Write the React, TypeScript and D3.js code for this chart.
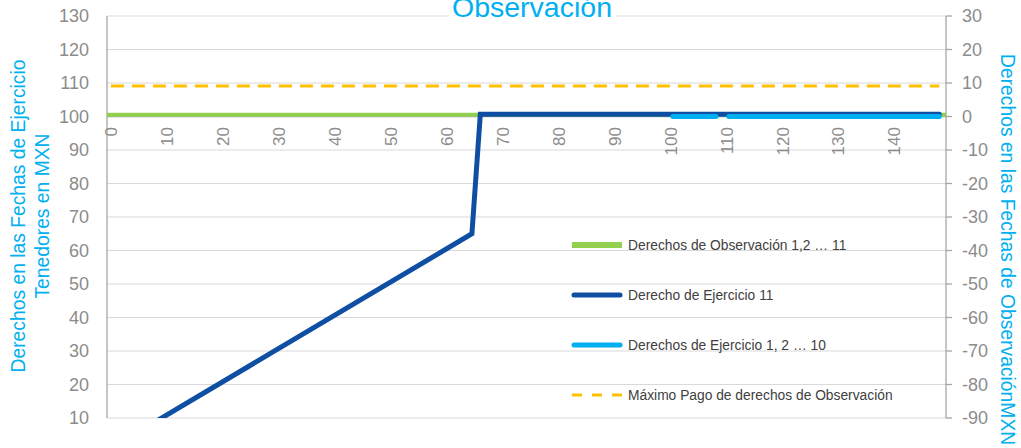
import React from "react";
import * as d3 from "d3";

const W = 1021;
const H = 448;

// Category ticks and axis ticks
const xTicks = [0, 10, 20, 30, 40, 50, 60, 70, 80, 90, 100, 110, 120, 130, 140];
const leftTicks = [10, 20, 30, 40, 50, 60, 70, 80, 90, 100, 110, 120, 130];
const rightTicks = [-90, -80, -70, -60, -50, -40, -30, -20, -10, 0, 10, 20, 30];

// Series (x, value on right axis)
const observacion: [number, number][] = [[-0.7, 0.5], [149.2, 0.5]];
const ejercicio11: [number, number][] = [[0, -99], [64.5, -35], [66, 0.7], [148, 0.7]];
const ejercicio1a10Seg1: [number, number][] = [[100.4, 0], [108.1, 0]];
const ejercicio1a10Seg2: [number, number][] = [[110.4, 0], [148, 0]];
const maximoPago: [number, number][] = [[0, 9.1], [148, 9.1]];

const legendLabels = [
  "Derechos de Observación 1,2 … 11",
  "Derecho de Ejercicio 11",
  "Derechos de Ejercicio 1, 2 … 10",
  "Máximo Pago de derechos de Observación",
];

const COL_GREEN = "#92d050";
const COL_DARK = "#0e4fa3";
const COL_LIGHT = "#00b0f0";
const COL_ORANGE = "#ffc000";
const COL_TEXT = "#00b0f0";
const COL_TICK = "#8c8c8c";
const COL_GRID = "#d9d9d9";
const COL_AXIS = "#a6a6a6";
const FONT = "'Liberation Sans', Arial, sans-serif";

export default function App() {
  const plotL = 107, plotR = 946, plotT = 16, plotB = 418;
  const x = d3.scaleLinear().domain([-0.7, 149.2]).range([plotL, plotR]);
  const yL = d3.scaleLinear().domain([10, 130]).range([plotB, plotT]);
  const yR = d3.scaleLinear().domain([-90, 30]).range([plotB, plotT]);

  const line = d3
    .line<[number, number]>()
    .x((d) => x(d[0]))
    .y((d) => yR(d[1]));

  const legendX = 572;
  const legendY0 = 245;
  const legendStep = 50;

  return (
    <svg
      width={W}
      height={H}
      style={{ position: "absolute", left: 0, top: 0, background: "#fff" }}
      fontFamily={FONT}
    >
      <defs>
        <clipPath id="plotClip">
          <rect x={plotL} y={plotT - 5} width={plotR - plotL} height={plotB - plotT + 5} />
        </clipPath>
      </defs>

      {/* gridlines */}
      {leftTicks.map((t) => (
        <line key={"g" + t} x1={plotL} x2={plotR} y1={yL(t)} y2={yL(t)} stroke={COL_GRID} strokeWidth={1} />
      ))}

      {/* axes lines */}
      <line x1={plotL} x2={plotL} y1={plotT} y2={plotB} stroke={COL_AXIS} strokeWidth={1.3} />
      <line x1={plotR} x2={plotR} y1={plotT} y2={plotB} stroke={COL_AXIS} strokeWidth={1.3} />
      {rightTicks.map((t) => (
        <line key={"rt" + t} x1={plotR} x2={plotR + 6} y1={yR(t)} y2={yR(t)} stroke={COL_AXIS} strokeWidth={1.3} />
      ))}
      <line x1={plotL} x2={plotR} y1={yR(0)} y2={yR(0)} stroke={COL_AXIS} strokeWidth={1.3} />

      {/* left tick labels */}
      {leftTicks.map((t) => (
        <text key={"lt" + t} x={89} y={yL(t)} dy="0.35em" textAnchor="end" fontSize={18} fill={COL_TICK}>
          {t}
        </text>
      ))}
      {/* right tick labels */}
      {rightTicks.map((t) => (
        <text key={"rl" + t} x={962} y={yR(t)} dy="0.35em" textAnchor="start" fontSize={18} fill={COL_TICK}>
          {t}
        </text>
      ))}
      {/* x tick labels */}
      {xTicks.map((t) => (
        <text
          key={"xt" + t}
          transform={`translate(${x(t)},127) rotate(-90)`}
          dy="0.35em"
          textAnchor="end"
          fontSize={17}
          fill={COL_TICK}
        >
          {t}
        </text>
      ))}

      {/* series */}
      <g clipPath="url(#plotClip)">
        <path d={line(maximoPago) || ""} fill="none" stroke={COL_ORANGE} strokeWidth={3} strokeDasharray="13,8" />
        <path d={line(observacion) || ""} fill="none" stroke={COL_GREEN} strokeWidth={4} />
        <path
          d={line(ejercicio11) || ""}
          fill="none"
          stroke={COL_DARK}
          strokeWidth={5}
          strokeLinecap="round"
          strokeLinejoin="miter"
        />
        <path d={line(ejercicio1a10Seg1) || ""} fill="none" stroke={COL_LIGHT} strokeWidth={5} strokeLinecap="round" />
        <path d={line(ejercicio1a10Seg2) || ""} fill="none" stroke={COL_LIGHT} strokeWidth={5} strokeLinecap="round" />
      </g>

      {/* legend */}
      <g>
        <rect x={legendX} y={legendY0 - 3} width={50} height={6} fill={COL_GREEN} />
        <line x1={legendX + 2} x2={legendX + 48} y1={legendY0 + legendStep} y2={legendY0 + legendStep} stroke={COL_DARK} strokeWidth={5} strokeLinecap="round" />
        <line x1={legendX + 2} x2={legendX + 48} y1={legendY0 + 2 * legendStep} y2={legendY0 + 2 * legendStep} stroke={COL_LIGHT} strokeWidth={5} strokeLinecap="round" />
        <line x1={legendX} x2={legendX + 50} y1={legendY0 + 3 * legendStep} y2={legendY0 + 3 * legendStep} stroke={COL_ORANGE} strokeWidth={3} strokeDasharray="10,10" />
        {legendLabels.map((l, i) => (
          <text key={l} x={628} y={legendY0 + i * legendStep} dy="0.35em" fontSize={13.8} fill="#404040">
            {l}
          </text>
        ))}
      </g>

      {/* title */}
      <rect x={449} y={0} width={167} height={21} fill="#fff" />
      <text x={532} y={17} textAnchor="middle" fontSize={28.5} fill={COL_TEXT}>
        Observación
      </text>

      {/* left axis title */}
      <g transform="translate(30,216) rotate(-90)">
        <text x={0} y={-12} dy="0.35em" textAnchor="middle" fontSize={19.3} fill={COL_TEXT}>
          Derechos en las Fechas de Ejercicio
        </text>
        <text x={0} y={12} dy="0.35em" textAnchor="middle" fontSize={19.3} fill={COL_TEXT}>
          Tenedores en MXN
        </text>
      </g>

      {/* right axis title */}
      <g transform="translate(1008,54) rotate(90)">
        <text x={0} y={0} dy="0.35em" textAnchor="start" fontSize={19.3} fill={COL_TEXT}>
          Derechos en las Fechas de ObservaciónMXN
        </text>
      </g>
    </svg>
  );
}
